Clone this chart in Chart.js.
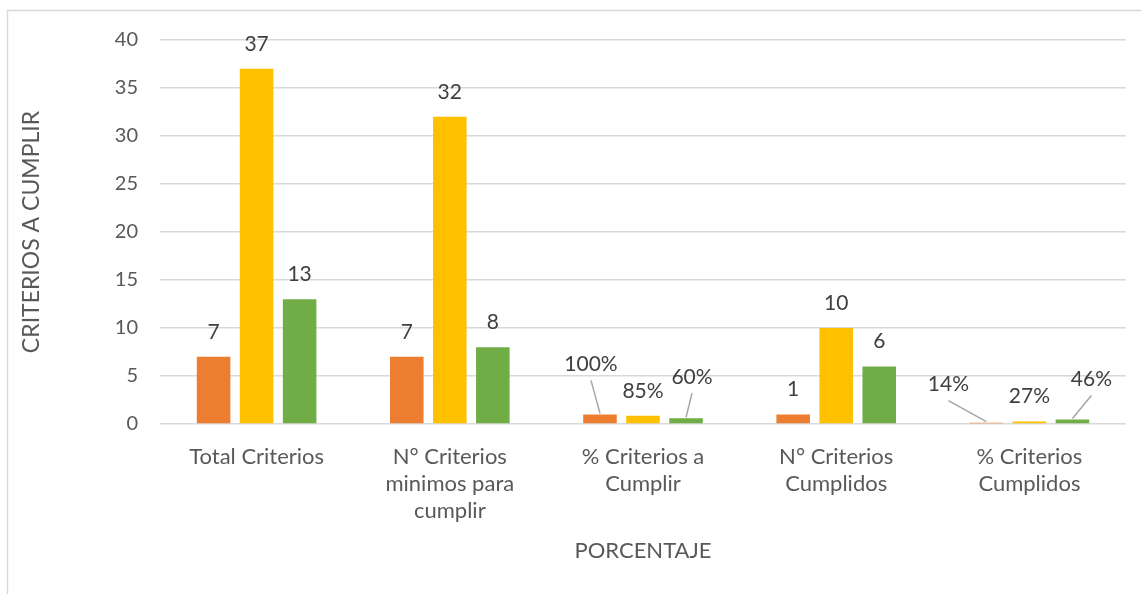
<!DOCTYPE html>
<html>
<head>
<meta charset="utf-8">
<script src="https://cdn.jsdelivr.net/npm/chart.js@4.4.0/dist/chart.umd.min.js"></script>
<style>
  html, body { margin: 0; padding: 0; background: #fff; }
  #wrap { width: 1141px; height: 594px; position: relative; }
</style>
</head>
<body>
<div id="wrap"><canvas id="chart" width="1141" height="594"></canvas></div>
<script>
"use strict";

// data
var categories = [
    ["Total Criterios"],
    ["N° Criterios", "minimos para", "cumplir"],
    ["% Criterios a", "Cumplir"],
    ["N° Criterios", "Cumplidos"],
    ["% Criterios", "Cumplidos"]
];
var serie1 = [7, 7, 1.00, 1, 0.14];
var serie2 = [37, 32, 0.85, 10, 0.27];
var serie3 = [13, 8, 0.60, 6, 0.46];
var yTicks = [0, 5, 10, 15, 20, 25, 30, 35, 40];
// categories whose values are shown as percent
var percentCats = [false, false, true, false, true];

// manual label moves (dx, dy) like the original sheet, per dataset per category
var labelMoves = [
    [[0, 0], [0, 0], [-9, -25], [0, 0], [-38, -13]],
    [[0, 0], [0, 0], [0, 0], [0, 0], [0, 0]],
    [[0, 0], [0, 0], [6, -16], [0, 0], [19, -15]]
];

var colors = ["#ED7D31", "#FFC000", "#70AD47"];
var font = "Lato, 'Open Sans', sans-serif";

var fmt = function(v, i) {
    if (percentCats[i]) return Math.round(v * 100) + "%";
    return String(v);
};

var labelPlugin = {
    id: "labels",
    beforeDraw: function(chart) {
        var ctx = chart.ctx;
        ctx.save();
        ctx.strokeStyle = "#d9d9d9";
        ctx.lineWidth = 1.5;
        ctx.strokeRect(7.5, 10.5, 2000, 2000);
        ctx.restore();
    },
    afterDatasetsDraw: function(chart) {
        var ctx = chart.ctx;
        ctx.save();
        ctx.font = "21px " + font;
        ctx.textAlign = "center";
        ctx.textBaseline = "middle";
        chart.data.datasets.forEach(function(ds, d) {
            var meta = chart.getDatasetMeta(d);
            meta.data.forEach(function(bar, i) {
                var mv = labelMoves[d][i];
                var lx = bar.x + mv[0];
                var ly = bar.y - 25 + mv[1];
                if (mv[0] !== 0 || mv[1] !== 0) {
                    ctx.strokeStyle = "#a6a6a6";
                    ctx.lineWidth = 1.5;
                    ctx.beginPath();
                    ctx.moveTo(lx, ly + 16);
                    ctx.lineTo(bar.x, bar.y - 1);
                    ctx.stroke();
                }
                ctx.fillStyle = "#404040";
                ctx.fillText(fmt(ds.data[i], i), lx, ly);
            });
        });
        ctx.restore();
    }
};

new Chart(document.getElementById("chart"), {
    type: "bar",
    data: {
        labels: categories,
        datasets: [
            { label: "Serie 1", data: serie1, backgroundColor: colors[0] },
            { label: "Serie 2", data: serie2, backgroundColor: colors[1] },
            { label: "Serie 3", data: serie3, backgroundColor: colors[2] }
        ]
    },
    options: {
        responsive: false,
        animation: false,
        layout: { padding: { left: 0, top: 40, right: 15, bottom: 0 } },
        datasets: { bar: { categoryPercentage: 0.668, barPercentage: 0.78 } },
        plugins: {
            legend: { display: false },
            tooltip: { enabled: false }
        },
        scales: {
            x: {
                grid: { display: false },
                border: { display: false },
                ticks: {
                    color: "#595959",
                    font: { family: font, size: 22, lineHeight: 1.23 },
                    padding: 11,
                    maxRotation: 0,
                    autoSkip: false
                },
                title: {
                    display: true,
                    text: "PORCENTAJE",
                    color: "#595959",
                    font: { family: font, size: 22 },
                    padding: { top: 0, bottom: 30 }
                },
                afterFit: function(scale) { scale.height = 170; }
            },
            y: {
                min: 0,
                max: 40,
                afterBuildTicks: function(scale) {
                    scale.ticks = yTicks.map(function(v) { return { value: v }; });
                },
                grid: { color: "#d9d9d9", lineWidth: 1.5, drawTicks: false },
                border: { display: false },
                ticks: {
                    color: "#595959",
                    font: { family: font, size: 20 },
                    padding: 22
                },
                title: {
                    display: true,
                    text: "CRITERIOS A CUMPLIR",
                    color: "#595959",
                    font: { family: font, size: 23 },
                    padding: { top: 18, bottom: 0 }
                },
                afterFit: function(scale) { scale.width = 160; }
            }
        }
    },
    plugins: [labelPlugin]
});
</script>
</body>
</html>
